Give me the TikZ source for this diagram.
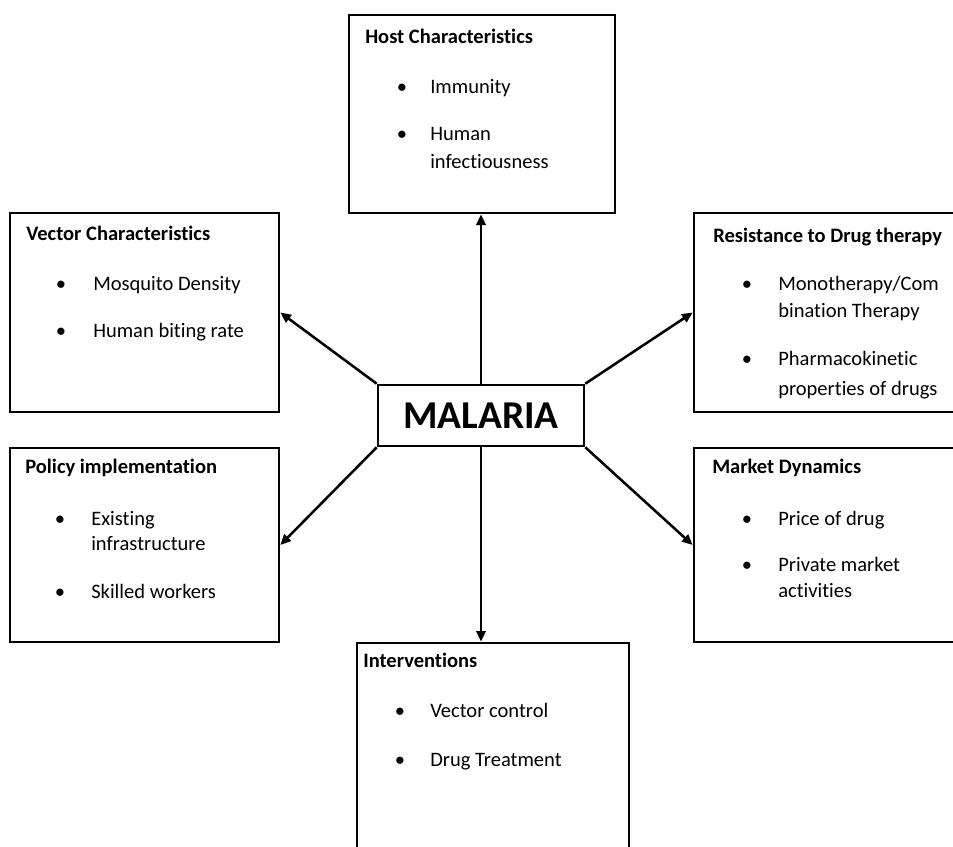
\documentclass[tikz,border=0pt]{standalone}
\usepackage{fontspec}
\setmainfont{Carlito}[Ligatures=NoCommon]
\usetikzlibrary{arrows.meta,fit}

\tikzset{
  box/.style={draw=black, line width=2pt, inner sep=0pt, fill=none},
  hub/.style={draw=black, line width=2pt, inner sep=0pt, fill=white},
  conn/.style={draw=black, line width=1.9pt, -{Triangle[length=8pt,width=7pt]}},
  ttl/.style={anchor=base west, inner sep=0pt, font=\fontsize{15.4}{18}\selectfont\bfseries},
  itm/.style={anchor=base west, inner sep=0pt, font=\fontsize{15.4}{18}\selectfont},
  bul/.style={anchor=base, inner sep=0pt, font=\fontsize{15.4}{18}\selectfont},
}

\begin{document}
\begin{tikzpicture}[x=0.75pt, y=-0.75pt]
  \useasboundingbox (0,0) rectangle (953,846);
  \clip (0,0) rectangle (953,846);
  \fill[white] (0,0) rectangle (953,846);

  % factor boxes
  \node[box, fit={(349,15) (615,213)}] (host) {};
  \node[box, fit={(10,213) (279,412)}] (vec) {};
  \node[box, fit={(694,213) (960,412)}] (res) {};
  \node[box, fit={(10,448) (279,642)}] (pol) {};
  \node[box, fit={(694,448) (960,642)}] (mkt) {};
  \node[box, fit={(357,643) (629,870)}] (int) {};

  % central box
  \node[hub, fit={(378,385) (584,446)}] (mal) {};
  \node[font=\fontsize{29.6}{34}\selectfont\bfseries, inner sep=0pt] (maltxt) at (mal.center) {MALARIA};

  % connectors
  \draw[conn] (mal.north) -- (mal.north |- host.south);
  \draw[conn] (mal.south) -- (mal.south |- int.north);
  \draw[conn] (mal.north west) -- (vec.east);
  \draw[conn] (mal.north east) -- (res.west);
  \draw[conn] (mal.south west) -- (pol.east);
  \draw[conn] (mal.south east) -- (mkt.west);

  % Host Characteristics
  \node[ttl] (hostT) at (365,43) {Host Characteristics};
  \node[bul] (hostB1) at (402,93) {•};
  \node[itm] (hostI1) at (430,93) {Immunity};
  \node[bul] (hostB2) at (402,140) {•};
  \node[itm] (hostI2) at (430,140) {Human};
  \node[itm] (hostI2b) at (430,168) {infectiousness};

  % Vector Characteristics
  \node[ttl] (vecT) at (26,240) {Vector Characteristics};
  \node[bul] (vecB1) at (61,290) {•};
  \node[itm] (vecI1) at (93,290) {Mosquito Density};
  \node[bul] (vecB2) at (61,337) {•};
  \node[itm] (vecI2) at (93,337) {Human biting rate};

  % Resistance to Drug therapy
  \node[ttl] (resT) at (713,242) {Resistance to Drug therapy};
  \node[bul] (resB1) at (747,290) {•};
  \node[itm] (resI1) at (778,290) {Monotherapy/Com};
  \node[itm] (resI1b) at (778,317) {bination Therapy};
  \node[bul] (resB2) at (747,365) {•};
  \node[itm] (resI2) at (778,365) {Pharmacokinetic};
  \node[itm] (resI2b) at (778,395) {properties of drugs};

  % Policy implementation
  \node[ttl] (polT) at (25,473) {Policy implementation};
  \node[bul] (polB1) at (60,525) {•};
  \node[itm] (polI1) at (91,525) {Existing};
  \node[itm] (polI1b) at (91,550) {infrastructure};
  \node[bul] (polB2) at (60,598) {•};
  \node[itm] (polI2) at (91,598) {Skilled workers};

  % Market Dynamics
  \node[ttl] (mktT) at (712,473) {Market Dynamics};
  \node[bul] (mktB1) at (747,525) {•};
  \node[itm] (mktI1) at (778,525) {Price of drug};
  \node[bul] (mktB2) at (747,571) {•};
  \node[itm] (mktI2) at (778,571) {Private market};
  \node[itm] (mktI2b) at (778,597) {activities};

  % Interventions
  \node[ttl] (intT) at (363,667) {Interventions};
  \node[bul] (intB1) at (400,717) {•};
  \node[itm] (intI1) at (430,717) {Vector control};
  \node[bul] (intB2) at (400,766) {•};
  \node[itm] (intI2) at (430,766) {Drug Treatment};
\end{tikzpicture}
\end{document}
